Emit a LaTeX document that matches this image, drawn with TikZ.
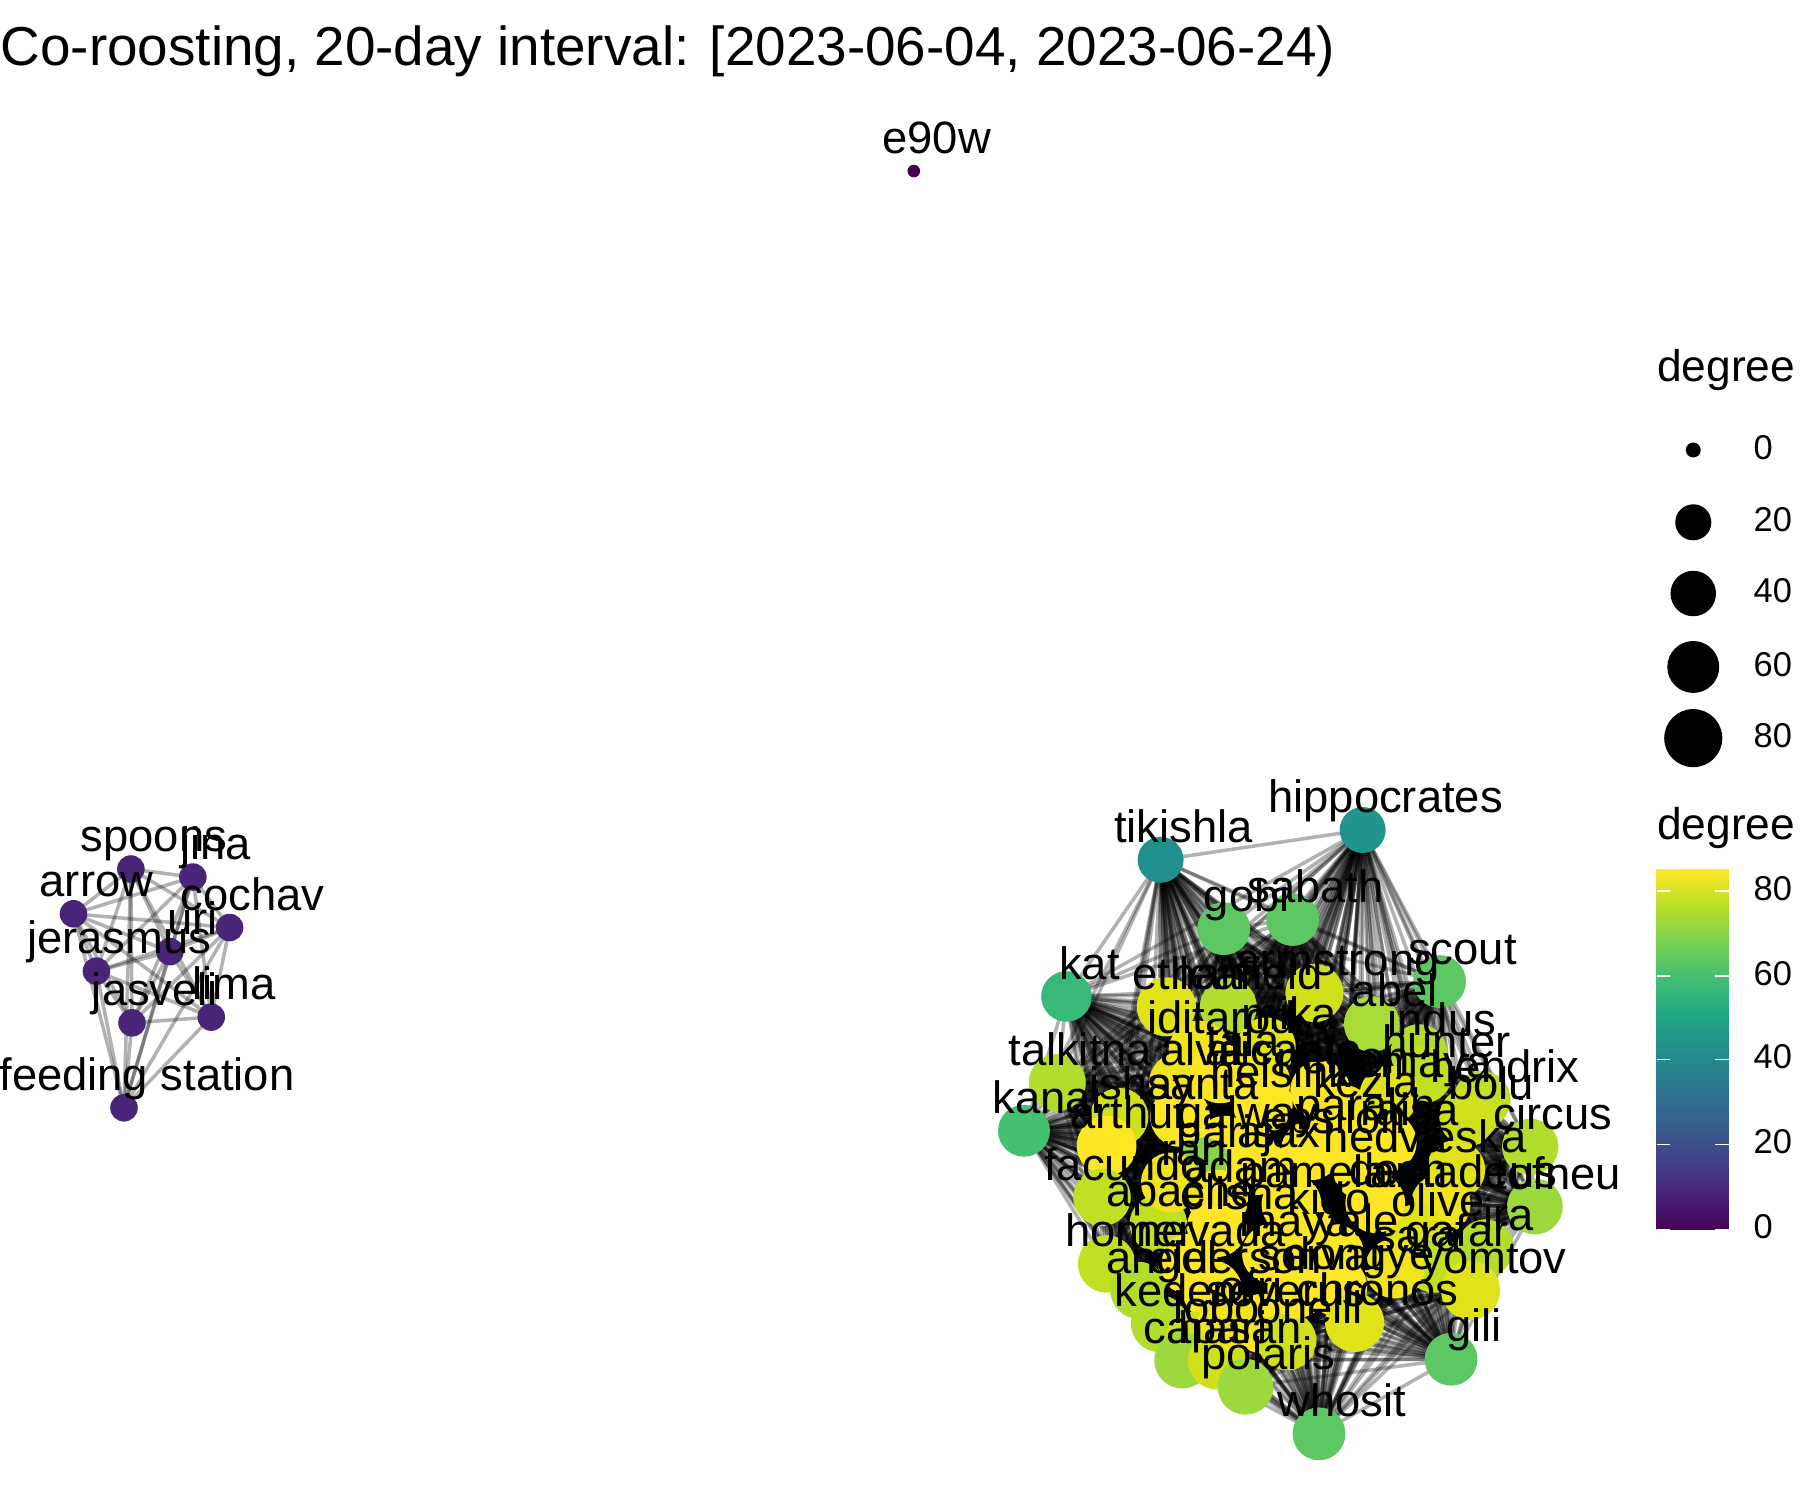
\documentclass[tikz,border=0pt]{standalone}
\usepackage{fontspec}
\setmainfont{Liberation Sans}
\definecolor{c0}{HTML}{440154}
\definecolor{c8}{HTML}{482576}
\definecolor{c42}{HTML}{21908C}
\definecolor{c44}{HTML}{1F958B}
\definecolor{c57}{HTML}{38B977}
\definecolor{c60}{HTML}{45C06F}
\definecolor{c64}{HTML}{5DC863}
\definecolor{c70}{HTML}{86D549}
\definecolor{c73}{HTML}{9BD93C}
\definecolor{c74}{HTML}{A8DB34}
\definecolor{c76}{HTML}{B2DD2D}
\definecolor{c78}{HTML}{C2DF23}
\definecolor{c80}{HTML}{D0E11C}
\definecolor{c82}{HTML}{E0E318}
\definecolor{c84}{HTML}{F0E51C}
\definecolor{c85}{HTML}{FDE725}
\definecolor{v0}{HTML}{440154}
\definecolor{v1}{HTML}{482576}
\definecolor{v2}{HTML}{414487}
\definecolor{v3}{HTML}{35608D}
\definecolor{v4}{HTML}{2A788E}
\definecolor{v5}{HTML}{21908C}
\definecolor{v6}{HTML}{22A884}
\definecolor{v7}{HTML}{43BF71}
\definecolor{v8}{HTML}{7AD151}
\definecolor{v9}{HTML}{BBDF27}
\definecolor{v10}{HTML}{FDE725}
\pgfdeclareverticalshading{viridisbar}{100bp}{color(0bp)=(v0); color(25bp)=(v0); color(30bp)=(v1); color(35bp)=(v2); color(40bp)=(v3); color(45bp)=(v4); color(50bp)=(v5); color(55bp)=(v6); color(60bp)=(v7); color(65bp)=(v8); color(70bp)=(v9); color(75bp)=(v10); color(100bp)=(v10)}
\def\bignodes{1/1187/723/c44/20/hippocrates, 2/1011/749/c42/20/tikishla, 3/1066/809/c64/23/gobi, 4/1126/801/c64/23/sabath, 5/1254/855/c64/23/scout, 6/929/868/c57/22/kat, 7/892/985/c60/22.6/kanai, 8/1145/865/c80/25.3/armstrong, 9/1016/877/c82/25.7/ethan, 10/1070/877/c76/24.8/leafield, 11/1195/892/c74/24.3/abel, 12/1044/915/c84/26/iditarod, 13/1103/912/c82/25.7/mika, 14/1236/917/c76/24.8/indus, 15/1240/936/c78/25/hunter, 16/921/943/c76/24.8/talkitna, 17/1027/943/c84/26/alva, 18/1098/943/c84/26/alicante, 19/1100/962/c85/26/helsinki, 20/1210/954/c82/25.7/yemaya, 21/1291/958/c78/25/hendrix, 22/1170/971/c84/26/kezia, 23/1279/973/c80/25.3/bolu, 24/975/973/c80/25.3/ishay, 25/1028/973/c85/26/santa, 26/1170/991/c85/26/parakh, 27/1333/999/c76/24.5/circus, 28/964/998/c85/26/arthur, 29/1067/998/c85/26/galway, 30/1142/1002/c85/26/epsilon, 31/1048/1015/c70/24/paris, 32/1094/1015/c85/26/ajax, 33/1187/1019/c85/26/hedva, 34/1268/1019/c82/25.7/eska, 35/960/1043/c78/25/facundo, 36/1061/1045/c85/26/adam, 37/1125/1049/c85/26/pamela, 38/1255/1049/c84/26/amadeus, 39/1337/1051/c73/24.3/tofneu, 40/1009/1066/c78/25/apache, 41/1060/1069/c85/26/elisha, 42/1138/1073/c85/26/kido, 43/1233/1075/c82/25.7/olive, 44/1294/1087/c76/24.8/ira, 45/964/1101/c78/25/homer, 46/1035/1101/c85/26/nevada, 47/1162/1092/c85/26/yale, 48/1249/1101/c78/25/gafar, 49/992/1124/c76/24.8/angel, 50/1056/1124/c85/26/elderson, 51/1165/1121/c85/26/dongye, 52/1281/1124/c82/25.7/yomtov, 53/1010/1153/c76/24.8/kedem, 54/1100/1153/c85/26/severus, 55/1180/1152/c82/25.7/chronos, 56/1040/1168/c80/25.3/lobo, 57/1121/1168/c80/25.7/oneill, 58/1030/1185/c73/24.5/capari, 59/1060/1185/c80/25.3/hasan, 60/1085/1208/c73/24.3/polaris, 61/1149/1249/c64/23/whosit, 62/1264/1184/c64/23/gili, 63/1063/935/c85/26/tala, 64/1150/950/c85/26/nelson, 65/1208/995/c85/26/raisa, 66/1108/1092/c85/26/maya, 67/1198/1048/c85/26/desh, 68/1070/1150/c84/26/ofri, 69/1130/1122/c85/26/servat, 70/1215/1105/c84/26/sara, 71/1020/1030/c84/26/ran}
\def\leftnodes{1/114/757/spoons, 2/168/764/jina, 3/64/796/arrow, 4/200/808/cochav, 5/148/829/uri, 6/84/846/jerasmus, 7/115/891/jasveli, 8/184/886/lima, 9/108/965/feeding station}
\begin{document}
\begin{tikzpicture}[x=0.01148cm,y=-0.01148cm,
  edge/.style={draw=black,draw opacity=0.3,line width=1pt},
  lab/.style={font=\fontsize{12.9}{14}\selectfont,anchor=base,inner sep=0pt},
  legtitle/.style={font=\fontsize{12.6}{14}\selectfont,anchor=mid west,inner sep=0pt},
  legnum/.style={font=\fontsize{9.8}{11}\selectfont,anchor=mid west,inner sep=0pt},
  tickline/.style={draw=white,line width=0.5pt}]
\useasboundingbox[fill=white] (0,0) rectangle (1568,1307);
% title
\node[anchor=base west,inner sep=0pt,font=\fontsize{15.6}{18}\selectfont] (title) at (0,57) {Co-roosting, 20-day interval: [2023-06-04, 2023-06-24)};
% coordinates
\foreach \n/\x/\y/\c/\r/\t in \bignodes {\coordinate (b\n) at (\x,\y);}
\foreach \n/\x/\y/\t in \leftnodes {\coordinate (l\n) at (\x,\y);}
\coordinate (e90w) at (796,149);
% edges
\foreach \i in {1,...,71}{\foreach \j in {1,...,71}{\ifnum\j>\i \draw[edge] (b\i) -- (b\j);\fi}}
\foreach \i in {1,...,9}{\foreach \j in {1,...,9}{\ifnum\j>\i \draw[edge] (l\i) -- (l\j);\fi}}
% node points
\foreach \n/\x/\y/\c/\r/\t in \bignodes {\fill[fill=\c] (b\n) circle[radius=\r*0.3266pt];}
\foreach \n/\x/\y/\t in \leftnodes {\fill[fill=c8] (l\n) circle[radius=12*0.3266pt];}
\fill[fill=c0] (e90w) circle[radius=5.5*0.3266pt];
% labels
\foreach \n/\x/\y/\c/\r/\t in \bignodes {\node[lab] (b\n-t) at (\x+20,\y-15) {\t};}
\foreach \n/\x/\y/\t in \leftnodes {\node[lab] (l\n-t) at (\x+20,\y-15) {\t};}
\node[lab] (e90w-t) at (816,134) {e90w};
% size legend
\node[legtitle] (st) at (1443,324) {degree};
\foreach \v/\y/\r in {0/392/6.5, 20/455/15.7, 40/517/19.8, 60/581/22.6, 80/643/25.3}{
  \fill[black] (1475,\y) circle[radius=\r*0.3266pt];
  \node[legnum] (s\v) at (1527,\y) {\v};
}
% colour legend
\node[legtitle] (ct) at (1443,723) {degree};
\shade[shading=viridisbar] (1443,757) rectangle (1506,1071);
\foreach \v/\y in {0/1071, 20/997, 40/923, 60/850, 80/776}{
  \draw[tickline] (1443,\y) -- (1455,\y);
  \draw[tickline] (1494,\y) -- (1506,\y);
  \node[legnum] (c\v) at (1527,\y) {\v};
}
\end{tikzpicture}
\end{document}
